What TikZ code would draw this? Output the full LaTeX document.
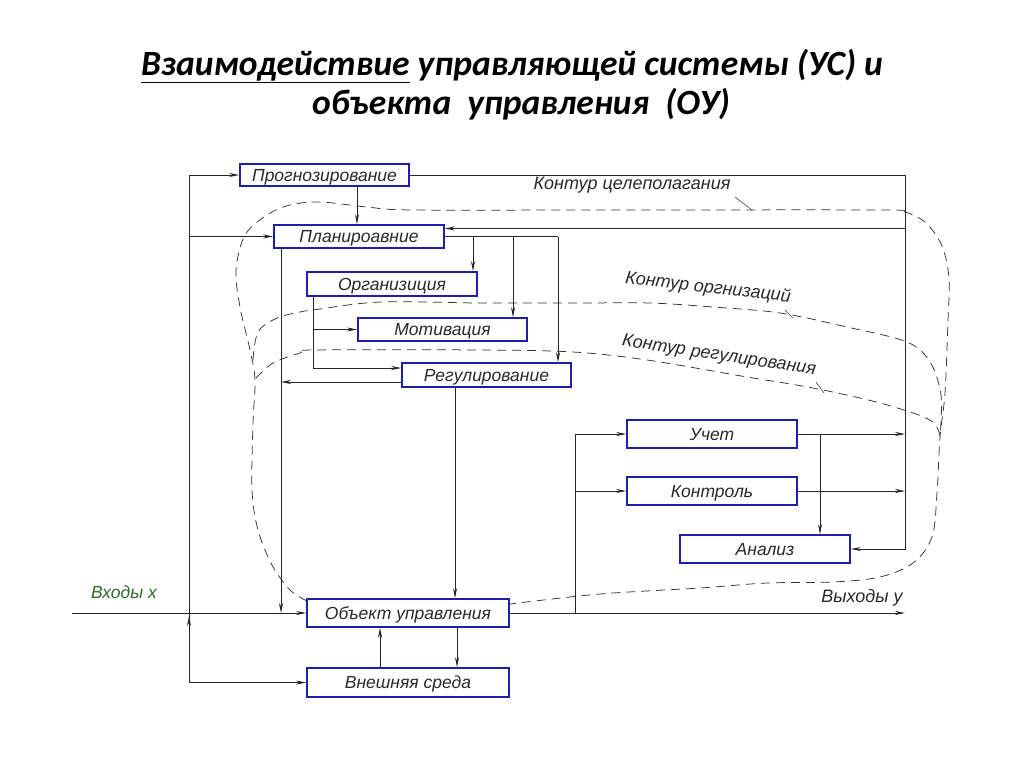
\documentclass[tikz,border=0pt]{standalone}
\usepackage{fontspec}
\setmainfont{Liberation Sans}
\newfontfamily\titlefont{Carlito}
\usetikzlibrary{arrows.meta}
\definecolor{boxblue}{HTML}{1E1EA8}
\definecolor{lbl}{HTML}{2A2A2A}
\definecolor{ingreen}{HTML}{2E6B2E}
\begin{document}
\begin{tikzpicture}[x=1pt,y=-1pt,
  box/.style={draw=boxblue, line width=1.6pt, fill=white, inner sep=0pt,
    text height=12.5pt, text depth=0pt,
    font=\fontsize{17.5}{18}\selectfont\itshape, text=lbl},
  conn/.style={draw=black!85, line width=0.9pt},
  arr/.style={-{Stealth[length=10pt,width=4pt]}},
  contour/.style={draw=black!80, line width=0.75pt, dash pattern=on 9pt off 6pt},
  lab/.style={font=\fontsize{18}{19}\selectfont\itshape, text=lbl, inner sep=0pt},
  inlab/.style={font=\fontsize{17.5}{18}\selectfont\itshape, text=ingreen, inner sep=0pt},
  ttl/.style={font=\titlefont\bfseries\itshape\fontsize{35.5}{40}\selectfont, text=black, inner sep=0pt},
  leader/.style={draw=black!75, line width=0.6pt}]
\useasboundingbox (0,0) rectangle (1024,767);
\fill[white] (0,0) rectangle (1024,767);

% title
\node[ttl] (t1) at (512,66) {\underline{Взаимодействие} управляющей системы (УС) и};
\node[ttl] (t2) at (521,104) {объекта\ \ управления\ \ (ОУ)};

% contours
\draw[contour] plot[smooth, tension=0.55] coordinates {(307,601) (290,590) (272,565) (258,530) (252,490) (253,423) (255,380) (250,350) (240,307) (236,270) (245,235) (267,215) (290,205) (320,202) (367,207) (413,210) (600,210) (880,210) (905,212) (926,223) (942,246) (949,278) (948,320) (945,393) (940,437) (937,493) (932,537) (913,563) (880,577) (833,582) (767,583) (700,588) (600,594) (510,604)};
\draw[contour] plot[smooth, tension=0.55] coordinates {(253,360) (258,332) (277,318) (300,312) (313,310) (380,302) (480,303) (580,303) (650,303) (713,307) (780,313) (847,327) (907,342) (930,362) (941,395) (940,437)};
\draw[contour] plot[smooth, tension=0.55] coordinates {(256,378) (273,363) (300,353) (313,350) (480,350) (573,352) (647,360) (747,377) (813,388) (880,403) (930,420) (940,437)};

% boxes
\node[box, minimum width=169pt, minimum height=22pt] (prog) at (324.5,175) {Прогнозирование};
\node[box, minimum width=170pt, minimum height=23pt] (plan) at (359,236.5) {Планироавние};
\node[box, minimum width=170pt, minimum height=24pt] (org) at (392,284) {Организиция};
\node[box, minimum width=169pt, minimum height=23pt] (motiv) at (442.5,329.5) {Мотивация};
\node[box, minimum width=169pt, minimum height=24pt] (reg) at (486.5,375) {Регулирование};
\node[box, minimum width=170pt, minimum height=28pt] (uchet) at (712,434) {Учет};
\node[box, minimum width=170pt, minimum height=28pt] (kontrol) at (712,491) {Контроль};
\node[box, minimum width=170pt, minimum height=28pt] (analiz) at (765,549) {Анализ};
\node[box, minimum width=202pt, minimum height=28pt] (obj) at (408,613) {Объект управления};
\node[box, minimum width=202pt, minimum height=29pt] (ext) at (408,682.5) {Внешняя среда};

% labels
\node[lab] (tc) at (632,185) {Контур целеполагания};
\node[lab, rotate=-6.5] (to) at (708,288) {Контур оргнизаций};
\node[lab, rotate=-8.5] (tr) at (719,356) {Контур регулирования};
\node[inlab] (vx) at (124,592) {Входы x};
\node[lab] (vy) at (862,598) {Выходы y};
\draw[leader] (735,197) -- (752,210);
\draw[leader] (785,310) -- (793,318);
\draw[leader] (816,382) -- (824,393);

% helper coordinates
\coordinate (busTop) at (189,175);
\coordinate (busBot) at (189,682.5);
\coordinate (inStart) at (72,613);
\coordinate (pd) at (281,248);
\coordinate (x357) at (357,0);
\coordinate (Rtop) at (905,175);
\coordinate (Rx) at (905,0);
\coordinate (br1) at (473,236.5);
\coordinate (br2) at (513,236.5);
\coordinate (br3) at (558,236.5);
\coordinate (x313) at (313,0);
\coordinate (x455) at (455,0);
\coordinate (x457) at (457,0);
\coordinate (x380) at (380,0);
\coordinate (x820) at (820,0);
\coordinate (outEnd) at (905,613);
\coordinate (ux) at (575,613);
\coordinate (pin) at ([yshift=8pt]plan.east);
\coordinate (rin) at ([yshift=7pt]reg.west);
\coordinate (rout) at ([yshift=-7pt]reg.west);

% connectors
\draw[conn,arr] (busTop) -- (prog.west);
\draw[conn] (busTop) -- (busBot);
\draw[conn,arr] (busTop |- plan.west) -- (plan.west);
\draw[conn,arr] (busBot) -- (ext.west);
\draw[conn,arr] (busBot) -- ([yshift=-3pt]busTop |- obj.west);
\draw[conn,arr] (inStart) -- (obj.west);
\draw[conn,arr] (pd) -- (pd |- obj.west);
\draw[conn,arr] (rout) -- (rout -| pd);
\draw[conn] (org.south -| x313) -- (x313 |- rin);
\draw[conn,arr] (x313 |- rin) -- (rin);
\draw[conn,arr] (x313 |- motiv.west) -- (motiv.west);
\draw[conn,arr] (prog.south -| x357) -- (plan.north -| x357);
\draw[conn,arr] (prog.east) -- (Rtop) -- (Rtop |- analiz.east) -- (analiz.east);
\draw[conn,arr] (Rtop |- pin) -- (pin);
\draw[conn] (plan.east) -- (br3);
\draw[conn,arr] (br1) -- (br1 |- org.north);
\draw[conn,arr] (br2) -- (br2 |- motiv.north);
\draw[conn,arr] (br3) -- (br3 |- reg.north);
\draw[conn,arr] (reg.south -| x455) -- (obj.north -| x455);
\draw[conn,arr] (obj.south -| x457) -- (ext.north -| x457);
\draw[conn,arr] (ext.north -| x380) -- (obj.south -| x380);
\draw[conn,arr] (obj.east) -- (outEnd);
\draw[conn] (ux) -- (ux |- uchet.west);
\draw[conn,arr] (ux |- uchet.west) -- (uchet.west);
\draw[conn,arr] (ux |- kontrol.west) -- (kontrol.west);
\draw[conn,arr] (uchet.east) -- (Rx |- uchet.east);
\draw[conn,arr] (kontrol.east) -- (Rx |- kontrol.east);
\draw[conn,arr] (x820 |- uchet.east) -- (x820 |- analiz.north);
\end{tikzpicture}
\end{document}
